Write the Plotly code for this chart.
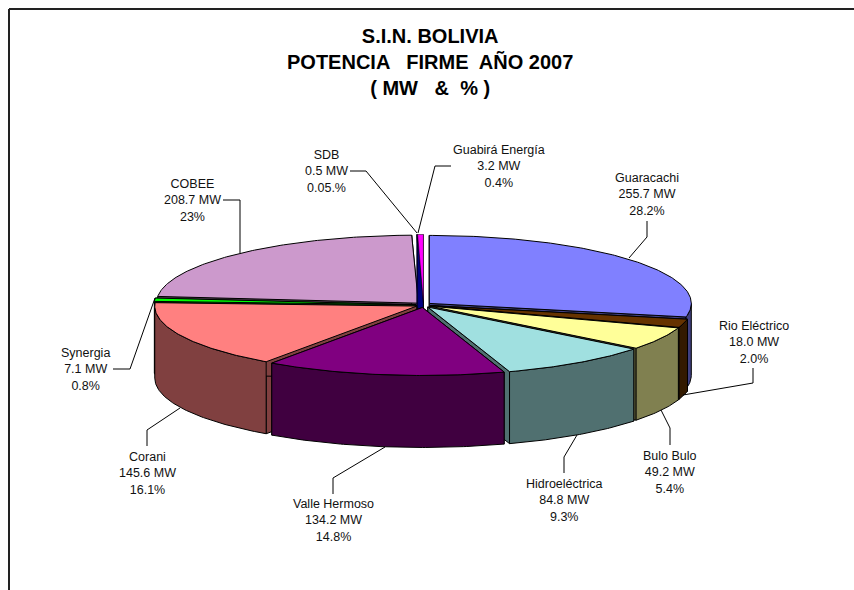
import numpy as np
import plotly.graph_objects as go

names = ["Guaracachi", "Rio Eléctrico", "Bulo Bulo", "Hidroeléctrica", "Valle Hermoso",
         "Corani", "Synergia", "COBEE", "SDB", "Guabirá Energía"]
mw = [255.7, 18.0, 49.2, 84.8, 134.2, 145.6, 7.1, 208.7, 0.5, 3.2]
pct_labels = ["28.2%", "2.0%", "5.4%", "9.3%", "14.8%", "16.1%", "0.8%", "23%", "0.05.%", "0.4%"]
top_colors = ["#8080FF", "#663300", "#FFFF99", "#A0E0E0", "#800080",
              "#FF8080", "#00FF00", "#CC99CC", "#000080", "#FF00FF"]
side_colors = ["#404080", "#331A00", "#808050", "#507070", "#400040",
               "#804040", "#008000", "#664D66", "#000080", "#000080"]

W, H = 854, 590
CX, CY = 423.5, 305.0   # pie centre
A, B = 262.0, 68.0      # ellipse semi-axes
DEPTH = 72.0
EX, EY = 7.5, 2.5       # explosion
draw_order = [7, 8, 9, 0, 6, 1, 2, 5, 3, 4]

label_pos = [(647, 194.5), (754, 342), (670, 472), (564, 500), (333, 520),
             (147, 473), (85, 369), (192, 200), (326, 171), (499, 166)]
leaders = [
    [(647, 221), (647, 237), (629, 258)],
    [(753, 368), (753, 383), (683, 395)],
    [(670, 445), (670, 428), (661, 410)],
    [(564, 473), (564, 457), (577, 435)],
    [(333, 494), (333, 478), (385, 447)],
    [(147, 446), (147, 430), (180, 408)],
    [(113, 369), (130, 369), (155, 298)],
    [(223, 200), (240, 200), (240, 253)],
    [(350, 171), (366, 171), (417, 233)],
    [(451, 166), (435, 166), (418, 233)],
]

total = sum(mw)
edges = np.concatenate([[0.0], np.cumsum(mw)]) / total * 2 * np.pi


def arc(cx, cy, t1, t2, dy=0.0):
    t = np.linspace(t1, t2, max(2, int(abs(t2 - t1) * 90)))
    return cx + A * np.sin(t), cy - B * np.cos(t) + dy


fig = go.Figure()


def poly(xs, ys, fill, width=1.0):
    fig.add_trace(go.Scatter(x=list(xs), y=list(ys), mode="lines", fill="toself",
                             fillcolor=fill, line=dict(color="black", width=width),
                             hoverinfo="skip", showlegend=False))


for i in draw_order:
    t1, t2 = edges[i], edges[i + 1]
    mid = (t1 + t2) / 2
    cx = CX + EX * np.sin(mid)
    cy = CY - EY * np.cos(mid)
    # radial walls
    for t in (t1, t2):
        rx = cx + A * np.sin(t)
        ry = cy - B * np.cos(t)
        poly([cx, rx, rx, cx, cx], [cy, ry, ry + DEPTH, cy + DEPTH, cy], side_colors[i],
             width=1.0 if i not in (8, 9) else 0.5)
    # outer rim (front half only)
    r1, r2 = max(t1, np.pi / 2), min(t2, 3 * np.pi / 2)
    if r2 > r1:
        ux, uy = arc(cx, cy, r1, r2)
        lx, ly = arc(cx, cy, r2, r1, DEPTH)
        poly(np.r_[ux, lx, ux[0]], np.r_[uy, ly, uy[0]], side_colors[i])
    # top face
    tx, ty = arc(cx, cy, t1, t2)
    poly(np.r_[cx, tx, cx], np.r_[cy, ty, cy], top_colors[i],
         width=1.0 if i not in (8, 9) else 0.5)

# leaders
for pts in leaders:
    fig.add_trace(go.Scatter(x=[p[0] for p in pts], y=[p[1] for p in pts], mode="lines",
                             line=dict(color="black", width=1), hoverinfo="skip", showlegend=False))

annotations = []
for n, v, p, pos in zip(names, mw, pct_labels, label_pos):
    annotations.append(dict(x=pos[0], y=pos[1], xref="x", yref="y", showarrow=False,
                            text=f"{n}<br>{v:.1f} MW<br>{p}", align="center",
                            font=dict(family="Liberation Sans", size=12.5, color="#111111")))
annotations.append(dict(x=430, y=62, xref="x", yref="y", showarrow=False, align="center",
                        text="<b>S.I.N. BOLIVIA<br>POTENCIA   FIRME  AÑO 2007<br>( MW   &amp;  % )</b>",
                        font=dict(family="Liberation Sans", size=20, color="black")))

fig.update_layout(
    width=W, height=H, margin=dict(l=0, r=0, t=0, b=0),
    paper_bgcolor="white", plot_bgcolor="white", showlegend=False,
    xaxis=dict(range=[0, W], visible=False, fixedrange=True),
    yaxis=dict(range=[H, 0], visible=False, fixedrange=True),
    annotations=annotations,
    shapes=[
        dict(type="line", xref="x", yref="y", x0=9, y0=9, x1=W, y1=9, line=dict(color="#222222", width=2)),
        dict(type="line", xref="x", yref="y", x0=9, y0=9, x1=9, y1=H, line=dict(color="#222222", width=2)),
    ],
)
fig.write_html("out.html", config={"displayModeBar": False},
               post_script="document.body.style.margin='0';document.body.style.overflow='hidden';")
